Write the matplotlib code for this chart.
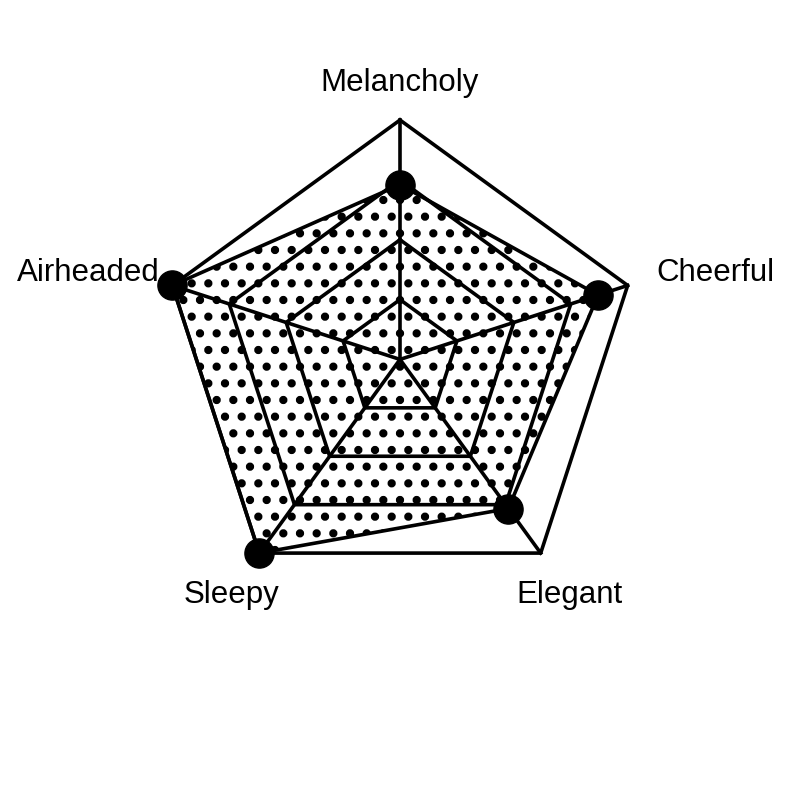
import numpy as np
import matplotlib
matplotlib.use("Agg")
import matplotlib.pyplot as plt

plt.rcParams['font.family'] = ['Liberation Sans', 'DejaVu Sans']
plt.rcParams['hatch.linewidth'] = 3.5

categories = ["Melancholy", "Cheerful", "Elegant", "Sleepy", "Airheaded"]
values = [73, 87, 77, 100, 100]
max_value = 100
levels = [25, 50, 75, 100]

n = len(categories)
angles = np.pi / 2 - 2 * np.pi * np.arange(n) / n

fig = plt.figure(figsize=(8, 8), dpi=100)
ax = fig.add_axes([0, 0, 1, 1])
ax.set_xlim(-1.671, 1.671)
ax.set_ylim(-1.840, 1.501)
ax.set_aspect('equal')
ax.axis('off')

# data area with dotted fill
r = np.array(values) / max_value
x = r * np.cos(angles)
y = r * np.sin(angles)
ax.fill(x, y, facecolor='white', edgecolor='black', hatch='.', linewidth=0, zorder=1)

# grid pentagons
for lv in levels:
    rr = lv / max_value
    gx = np.append(rr * np.cos(angles), rr * np.cos(angles[0]))
    gy = np.append(rr * np.sin(angles), rr * np.sin(angles[0]))
    ax.plot(gx, gy, color='black', lw=2.6, zorder=2)

# spokes
for a in angles:
    ax.plot([0, np.cos(a)], [0, np.sin(a)], color='black', lw=2.6, zorder=2)

# data outline and points
ax.plot(np.append(x, x[0]), np.append(y, y[0]), color='black', lw=2.6, zorder=3)
ax.plot(x, y, 'o', color='black', markersize=21, zorder=4)

# labels
label_pos = [(0, 1.154), (1.318, 0.362), (0.71, -0.983), (-0.703, -0.983), (-1.30, 0.362)]
for name, (lx, ly) in zip(categories, label_pos):
    ax.text(lx, ly, name, fontsize=22.5, ha='center', va='center')

fig.savefig("out.png", dpi=100)
